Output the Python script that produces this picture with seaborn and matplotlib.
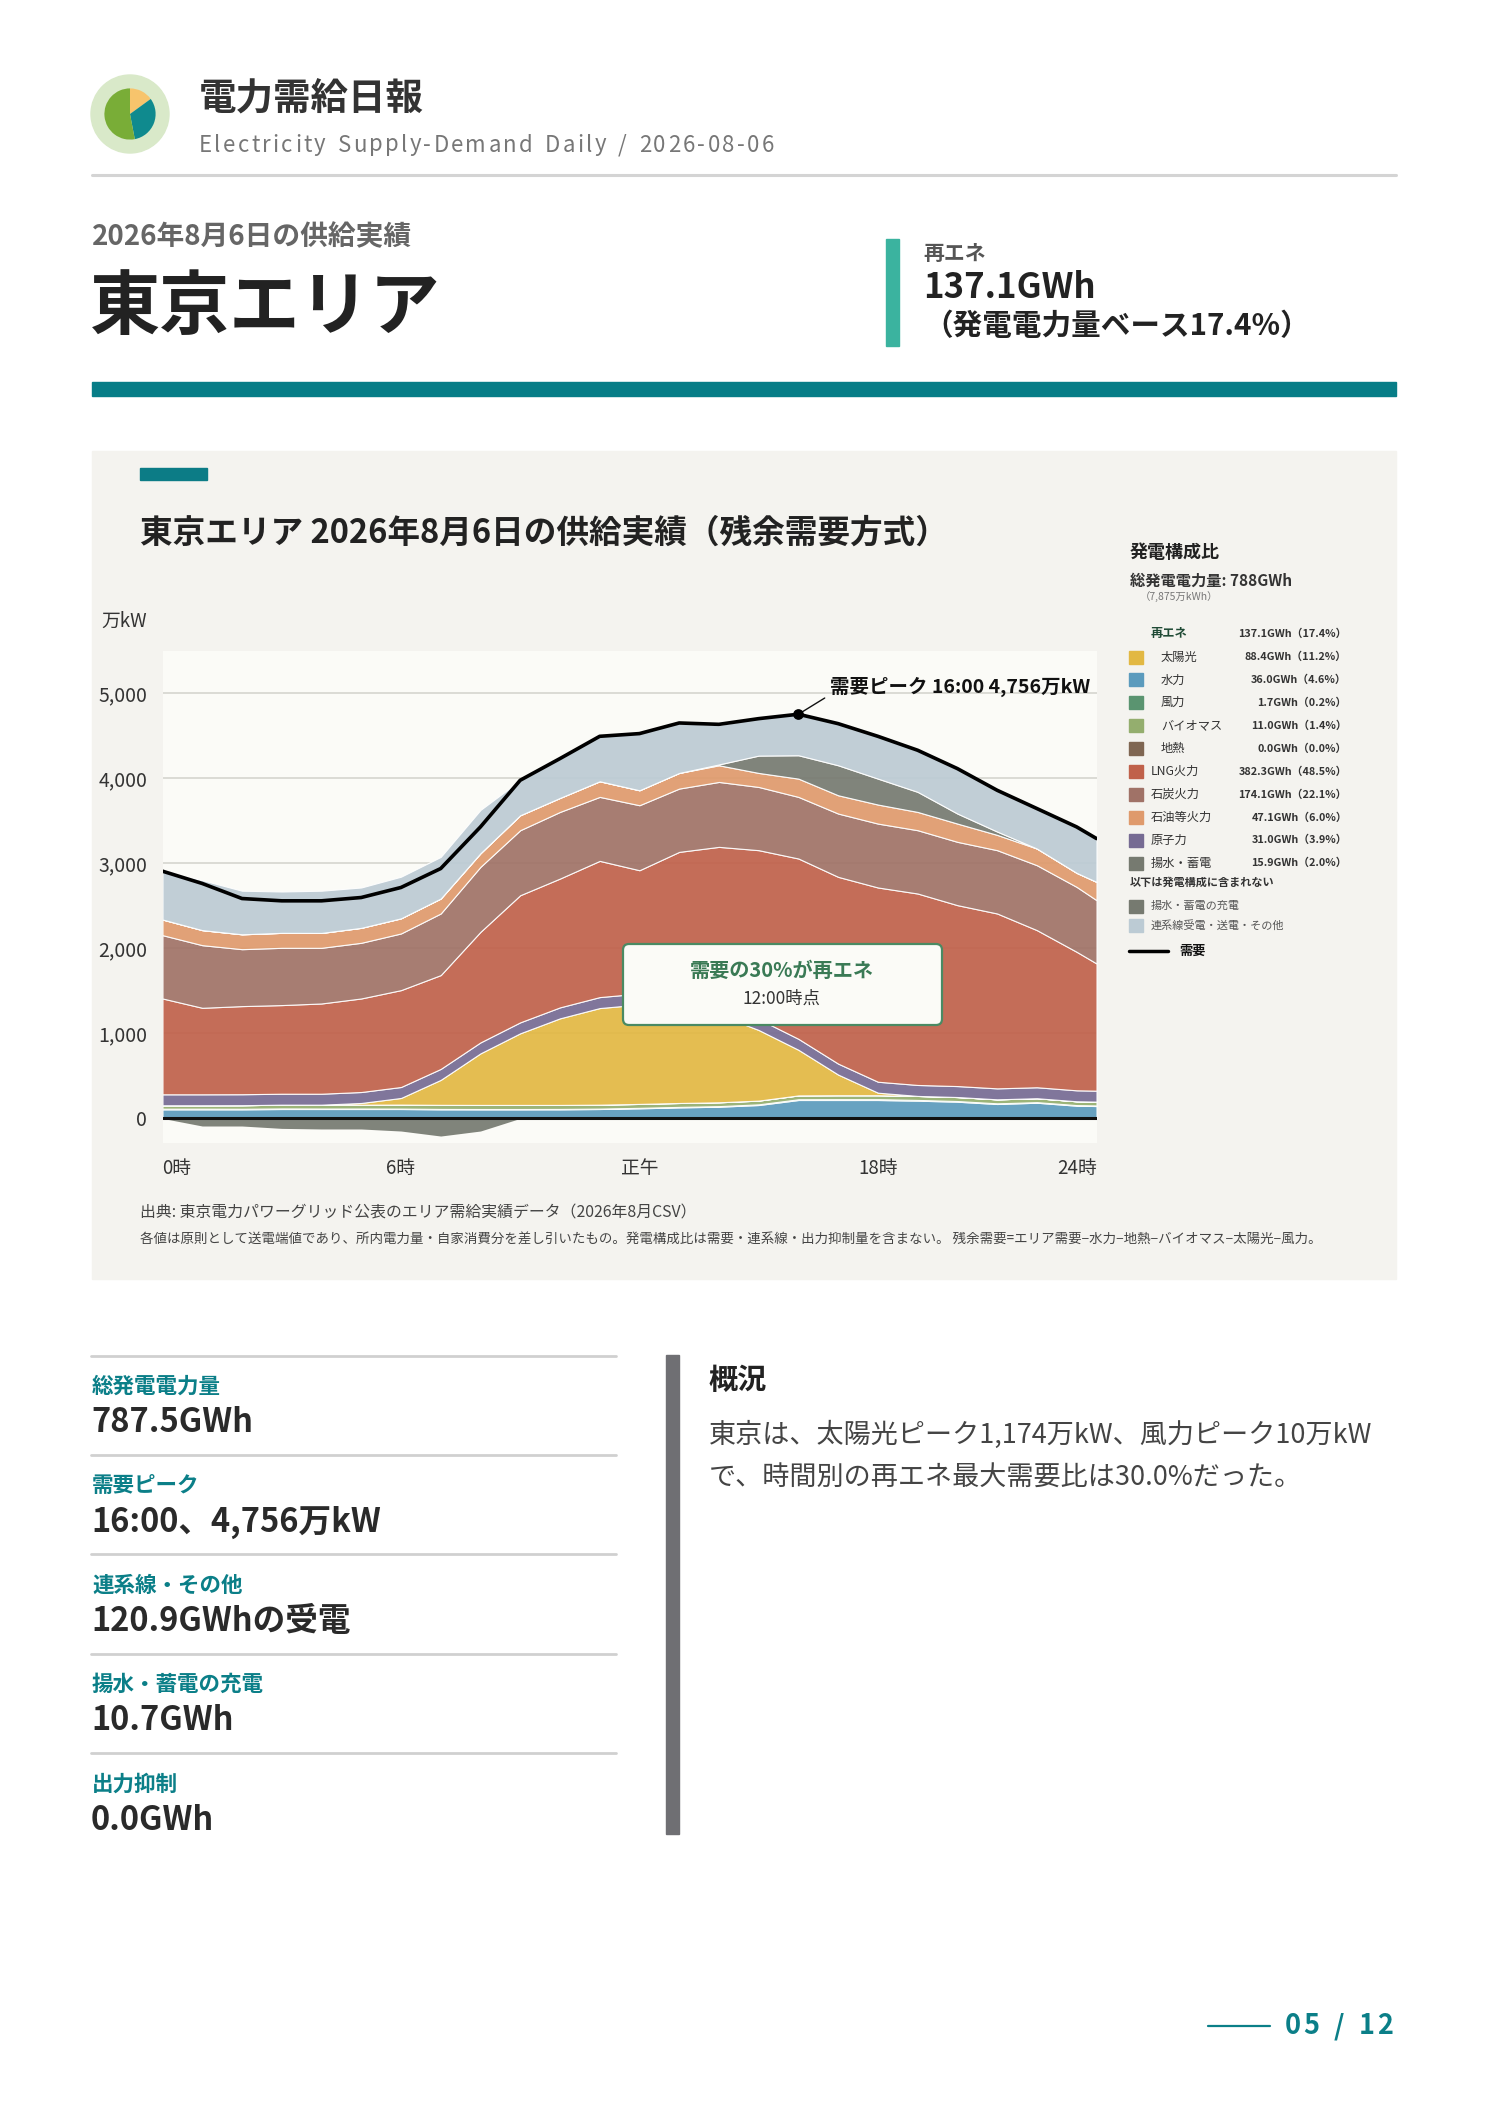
import numpy as np
import pandas as pd
import matplotlib
matplotlib.use("Agg")
import matplotlib.pyplot as plt
import seaborn as sns
from matplotlib.patches import Rectangle, FancyBboxPatch, Circle

# hourly values (万kW), last point = 23:30
hours = [0, 1, 2, 3, 4, 5, 6, 7, 8, 9, 10, 11, 12, 13, 14, 15, 16, 17, 18, 19, 20, 21, 22, 23, 23.5]
hydro = [106, 106, 106, 110, 110, 110, 110, 106, 106, 106, 106, 110, 118, 129, 137, 157, 216, 216, 216, 208, 196, 169, 184, 149, 145]
wind = [8, 8, 7, 7, 6, 6, 5, 5, 4, 4, 5, 5, 6, 6, 7, 8, 9, 10, 10, 9, 8, 8, 7, 7, 7]
biomass = [40, 40, 42, 44, 45, 45, 47, 48, 48, 48, 47, 46, 46, 46, 45, 44, 45, 46, 46, 47, 47, 47, 46, 45, 45]
geothermal = [0] * 25
solar = [0, 0, 0, 0, 0, 20, 78, 294, 607, 843, 1019, 1137, 1170, 1130, 1030, 831, 537, 243, 30, 0, 0, 0, 0, 0, 0]
nuclear = [129] * 25
lng = [1128, 1018, 1037, 1043, 1062, 1101, 1140, 1104, 1301, 1496, 1516, 1603, 1451, 1696, 1847, 1987, 2122, 2198, 2286, 2253, 2129, 2058, 1849, 1630, 1497]
coal = [745, 737, 670, 674, 655, 655, 667, 725, 765, 765, 784, 753, 765, 745, 764, 744, 725, 745, 752, 745, 745, 745, 764, 764, 745]
oil = [184, 177, 175, 176, 175, 176, 178, 176, 160, 176, 165, 184, 176, 184, 196, 165, 215, 215, 224, 215, 215, 180, 196, 165, 215]
pumped = [0, 0, 0, 0, 0, 0, 0, 0, 0, 0, 0, 0, 0, 0, 10, 204, 275, 353, 305, 236, 118, 39, 0, 0, 0]
interconn = [569, 588, 513, 487, 497, 475, 490, 490, 510, 412, 490, 541, 667, 588, 462, 443, 483, 490, 498, 490, 529, 490, 471, 549, 510]
charging = [0, 90, 90, 118, 125, 125, 149, 208, 149, 0, 0, 0, 0, 0, 0, 0, 0, 0, 0, 0, 0, 0, 0, 0, 0]
demand = [2909, 2764, 2587, 2560, 2560, 2599, 2717, 2940, 3430, 3979, 4234, 4496, 4528, 4653, 4637, 4704, 4756, 4645, 4496, 4332, 4116, 3861, 3646, 3430, 3293]

xtick_pos = [0, 6, 12, 18, 23.5]
xtick_lbl = ["0時", "6時", "正午", "18時", "24時"]
ytick_pos = [0, 1000, 2000, 3000, 4000, 5000]

legend_names = ["太陽光", "水力", "風力", "バイオマス", "地熱", "LNG火力", "石炭火力", "石油等火力", "原子力", "揚水・蓄電"]
legend_vals = ["88.4GWh（11.2%）", "36.0GWh（4.6%）", "1.7GWh（0.2%）", "11.0GWh（1.4%）", "0.0GWh（0.0%）",
               "382.3GWh（48.5%）", "174.1GWh（22.1%）", "47.1GWh（6.0%）", "31.0GWh（3.9%）", "15.9GWh（2.0%）"]
legend_colors = ["#e2b843", "#5b9bbd", "#5a9470", "#94ae6e", "#7f6652", "#c0614a", "#a07267", "#df9a6c", "#766b93", "#767a70"]
renewable_rows = 5

stat_labels = ["総発電電力量", "需要ピーク", "連系線・その他", "揚水・蓄電の充電", "出力抑制"]
stat_values = ["787.5GWh", "16:00、4,756万kW", "120.9GWhの受電", "10.7GWh", "0.0GWh"]

logo_share = [15, 32, 53]

sns.set_theme(style="white")
plt.rcParams["font.family"] = ["Noto Sans CJK JP", "DejaVu Sans"]

W, H = 1488, 2105
TEAL = "#0b7f88"
fig = plt.figure(figsize=(W / 100, H / 100), dpi=100)
fig.patch.set_facecolor("white")
renderer = fig.canvas.get_renderer()

# page layer in pixel coordinates
page = fig.add_axes([0, 0, 1, 1], zorder=-1)
page.set_xlim(0, W)
page.set_ylim(H, 0)
page.axis("off")


def spaced(ax, x, y, s, gap, ha="left", **kw):
    # letter-spaced text, one glyph at a time
    widths = []
    for ch in s:
        t = ax.text(0, 0, "n" if ch == " " else ch, **kw)
        w = t.get_window_extent(renderer).width
        widths.append(w * 0.55 if ch == " " else w)
        t.remove()
    total = sum(widths) + gap * (len(s) - 1)
    if ha == "right":
        x -= total
    for ch, w in zip(s, widths):
        if ch != " ":
            ax.text(x, y, ch, va="center", **kw)
        x += w + gap


# header
page.add_patch(Circle((130, 114), 39, color="#d9e9c9"))
page.text(199, 98, "電力需給日報", fontsize=27, fontweight="bold", color="#333333", va="center")
spaced(page, 199, 145, "Electricity Supply-Demand Daily / 2026-08-06", 2.3, fontsize=16, color="#777777")
page.plot([92, 1396], [174.5, 174.5], color="#d4d4d4", lw=2.2)
page.text(92, 237, "2026年8月6日の供給実績", fontsize=20, fontweight="bold", color="#666666", va="center")
page.text(90, 309, "東京エリア", fontsize=50.5, fontweight="bold", color="#222222", va="center")
page.add_patch(Rectangle((886, 239), 13, 107, color="#3bb39f"))
page.text(923, 254, "再エネ", fontsize=15, fontweight="bold", color="#555555", va="center")
page.text(923, 288, "137.1GWh", fontsize=25, fontweight="bold", color="#222222", va="center")
page.text(923, 326, "（発電電力量ベース17.4%）", fontsize=21.3, fontweight="bold", color="#222222", va="center")
page.add_patch(Rectangle((92, 382), 1304, 14, color="#077d87"))

# chart panel
page.add_patch(Rectangle((92, 451), 1304, 828, color="#f4f3ef"))
page.add_patch(Rectangle((140, 468), 67, 12, color="#0c7c86"))
page.text(140, 533, "東京エリア 2026年8月6日の供給実績（残余需要方式）", fontsize=23.5, fontweight="bold",
          color="#222222", va="center")
page.text(101, 621, "万kW", fontsize=13.5, color="#333333", va="center")
page.text(140, 1213, "出典: 東京電力パワーグリッド公表のエリア需給実績データ（2026年8月CSV）", fontsize=11.4,
          color="#444444", va="center")
page.text(140, 1240, "各値は原則として送電端値であり、所内電力量・自家消費分を差し引いたもの。発電構成比は需要・連系線・出力抑制量を含まない。 "
          "残余需要=エリア需要−水力−地熱−バイオマス−太陽光−風力。", fontsize=9.7, color="#444444", va="center")

# legend block
page.text(1130, 553, "発電構成比", fontsize=13, fontweight="bold", color="#222222", va="center")
page.text(1130, 581, "総発電電力量: 788GWh", fontsize=11, fontweight="bold", color="#333333", va="center")
page.text(1140, 597, "（7,875万kWh）", fontsize=7.5, color="#777777", va="center")
page.text(1151, 634, "再エネ", fontsize=8.8, fontweight="bold", color="#1f4a35", va="center")
page.text(1347, 634, "137.1GWh（17.4%）", fontsize=7.8, fontweight="bold", color="#333333", va="center", ha="right")
for i, (name, val, col) in enumerate(zip(legend_names, legend_vals, legend_colors)):
    y = 657 + i * 22.9
    page.add_patch(Rectangle((1129, y - 6.5), 14, 13, color=col))
    page.text(1161 if i < renewable_rows else 1151, y, name, fontsize=8.8, color="#333333", va="center")
    page.text(1347, y, val, fontsize=7.8, fontweight="bold", color="#333333", va="center", ha="right")
page.text(1130, 882, "以下は発電構成に含まれない", fontsize=8, fontweight="bold", color="#333333", va="center")
page.add_patch(Rectangle((1129, 899.5), 14, 13, color="#767a70"))
page.text(1151, 906, "揚水・蓄電の充電", fontsize=8, color="#555555", va="center")
page.add_patch(Rectangle((1129, 918.5), 14, 13, color="#bccbd4"))
page.text(1151, 925, "連系線受電・送電・その他", fontsize=8, color="#555555", va="center")
page.plot([1129, 1168], [951, 951], color="black", lw=2.5)
page.text(1179, 951, "需要", fontsize=9.5, fontweight="bold", color="#111111", va="center")

# summary stats
for i, (lab, val) in enumerate(zip(stat_labels, stat_values)):
    y0 = 1355.5 + i * 99.4
    page.plot([91, 616], [y0, y0], color="#d0d0d0", lw=2)
    page.text(92, y0 + 31, lab, fontsize=15.5, fontweight="bold", color=TEAL, va="center")
    page.text(91, y0 + 67, val, fontsize=23.5, fontweight="bold", color="#2a2a2a", va="center")
page.add_patch(Rectangle((666, 1355), 13, 479, color="#6f6f73"))
page.text(709, 1380, "概況", fontsize=21, fontweight="bold", color="#222222", va="center")
page.text(709, 1435, "東京は、太陽光ピーク1,174万kW、風力ピーク10万kW", fontsize=19.5, color="#444444", va="center")
page.text(709, 1478, "で、時間別の再エネ最大需要比は30.0%だった。", fontsize=19.5, color="#444444", va="center")
page.plot([1208, 1270], [2026, 2026], color=TEAL, lw=1.6)
spaced(page, 1393, 2026, "05 / 12", 2.5, ha="right", fontsize=19.5, fontweight="bold", color=TEAL)

# logo pie
logo = fig.add_axes([(130 - 32) / W, 1 - (114 + 32) / H, 64 / W, 64 / H])
logo.pie(logo_share, colors=["#f7c46c", "#0f8a8e", "#79ad37"], startangle=90, counterclock=False,
         wedgeprops=dict(linewidth=0))
logo.set_aspect("equal")

# main chart
L, R, T, B = 162.5, 1096.5, 651, 1143
ax = fig.add_axes([L / W, 1 - B / H, (R - L) / W, (B - T) / H], zorder=1)
ax.set_facecolor("#fbfbf7")

stack = pd.DataFrame({"水力": hydro, "風力": wind, "バイオマス": biomass, "地熱": geothermal, "太陽光": solar,
                      "原子力": nuclear, "LNG火力": lng, "石炭火力": coal, "石油等火力": oil,
                      "揚水・蓄電": pumped, "連系線": interconn}, index=hours)
stack_colors = ["#5b9bbd", "#5a9470", "#94ae6e", "#7f6652", "#e2b843", "#766b93", "#c0614a",
                "#a07267", "#df9a6c", "#767a70", "#bccbd4"]
ax.stackplot(stack.index, stack.T.values, colors=stack_colors, alpha=0.92,
             edgecolor="white", linewidth=0.8)
ax.fill_between(hours, 0, np.negative(charging), color="#767a70", alpha=0.92, lw=0)
ax.axhline(0, color="#111111", lw=2.2, zorder=3)
sns.lineplot(x=hours, y=demand, color="black", lw=2.6, ax=ax, zorder=4)

pk = int(np.argmax(demand))
ax.scatter([hours[pk]], [demand[pk]], s=45, color="black", zorder=5)
ax.annotate("需要ピーク 16:00 4,756万kW", xy=(hours[pk], demand[pk]), xytext=(23, 20),
            textcoords="offset points", fontsize=14, fontweight="bold", color="#111111",
            ha="left", va="center",
            arrowprops=dict(arrowstyle="-", color="#111111", lw=1, shrinkA=2, shrinkB=0, relpos=(0, 0.1)))

ax.set_xlim(0, 23.5)
ax.set_ylim(-290, 5500)
ax.set_xticks(xtick_pos)
ax.set_xticklabels(xtick_lbl)
ax.set_yticks(ytick_pos)
ax.set_yticklabels([f"{v:,}" for v in ytick_pos])
ax.tick_params(axis="x", length=0, pad=11, labelsize=13.5, labelcolor="#333333")
ax.tick_params(axis="y", length=0, pad=11, labelsize=14, labelcolor="#333333")
xl = ax.get_xticklabels()
xl[0].set_ha("left")
xl[-1].set_ha("right")
ax.yaxis.grid(True, color="#d8d8d2", lw=1.3)
ax.xaxis.grid(False)
ax.set_axisbelow(True)
for s in ax.spines.values():
    s.set_visible(False)
ax.set_xlabel("")
ax.set_ylabel("")

# callout box over the chart
over = fig.add_axes([0, 0, 1, 1], zorder=6)
over.set_xlim(0, W)
over.set_ylim(H, 0)
over.axis("off")
over.patch.set_alpha(0)
over.add_patch(FancyBboxPatch((623, 944), 319, 81, boxstyle="round,pad=0,rounding_size=6",
                              fc="#fbfbf7", ec="#4a8a63", lw=1.6))
over.text(782, 970, "需要の30%が再エネ", fontsize=14.5, fontweight="bold", color="#3a7a55", ha="center", va="center")
over.text(782, 999, "12:00時点", fontsize=12.5, color="#333333", ha="center", va="center")

fig.savefig("out.png", dpi=100)
